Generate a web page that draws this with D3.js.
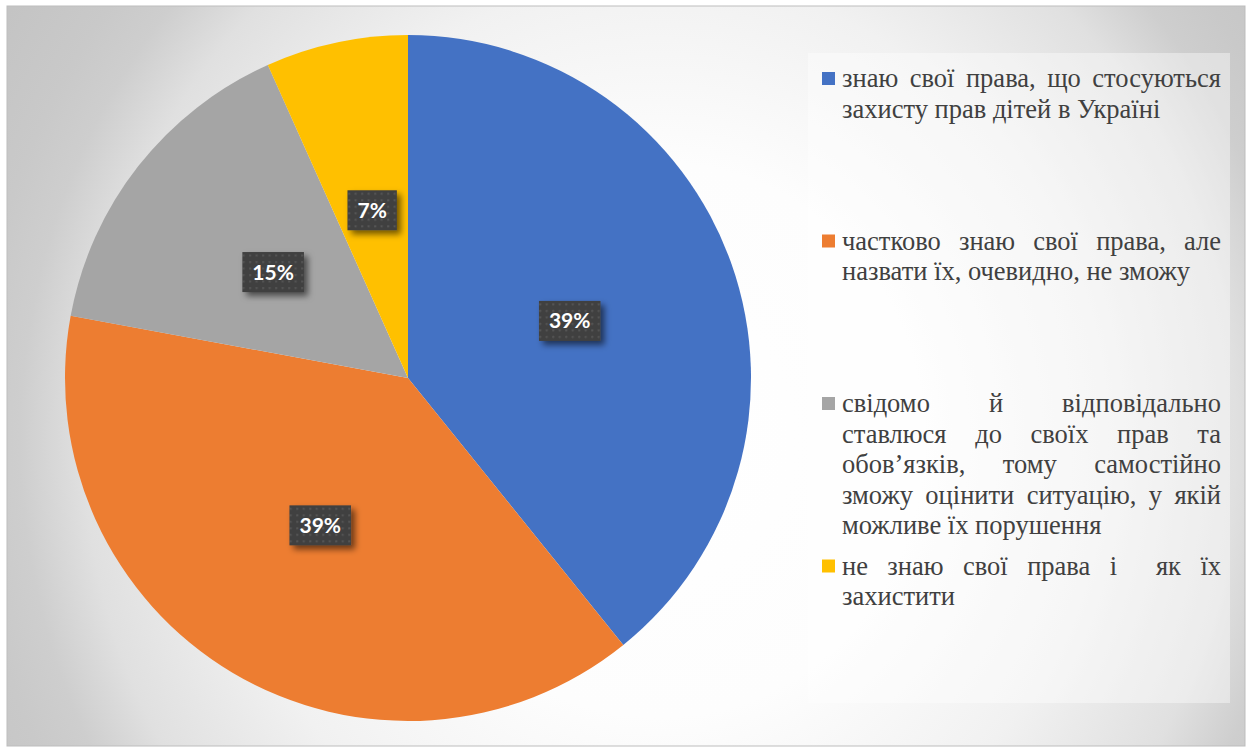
<!DOCTYPE html>
<html>
<head>
<meta charset="utf-8">
<script src="https://cdn.jsdelivr.net/npm/d3@7"></script>
<style>
  body { margin: 0; background: #fff; }
  svg { display: block; }
  .legend text { font-family: "Liberation Serif", "Times New Roman", serif; font-size: 26.5px; }
</style>
</head>
<body>
<div id="chart"></div>
<script>
// chart data
let categories = [
    "знаю свої права, що стосуються захисту прав дітей в Україні",
    "частково знаю свої права, але назвати їх, очевидно, не зможу",
    "свідомо й відповідально ставлюся до своїх прав та обов’язків, тому самостійно зможу оцінити ситуацію, у якій можливе їх порушення",
    "не знаю свої права і  як їх захистити"
];
let values = [39.2, 38.7, 15.4, 6.7];
let colors = ["#4472C4", "#ED7D31", "#A5A5A5", "#FFC000"];

let width = 1248, height = 748;

let svg = d3.select("#chart")
    .append("svg")
    .attr("width", width)
    .attr("height", height);

let defs = svg.append("defs");

// background gradient
let bg = defs.append("radialGradient")
    .attr("id", "bg-grad")
    .attr("gradientUnits", "userSpaceOnUse")
    .attr("cx", 0).attr("cy", 0).attr("r", 1)
    .attr("gradientTransform", "translate(660,440) scale(800,840)");
[[0, "#ffffff"], [0.33, "#fdfdfd"], [0.55, "#f1f1f1"], [0.72, "#e0e0e0"],
 [0.8, "#cecece"], [0.86, "#c9c9c9"], [1, "#c2c2c2"]].forEach(s => {
    bg.append("stop").attr("offset", s[0]).attr("stop-color", s[1]);
});

// dotted texture for the data labels
let pat = defs.append("pattern")
    .attr("id", "dots")
    .attr("width", 6.5).attr("height", 6.5)
    .attr("patternUnits", "userSpaceOnUse");
pat.append("rect").attr("width", 6.5).attr("height", 6.5).attr("fill", "#404040");
pat.append("rect").attr("x", 2).attr("y", 2).attr("width", 2).attr("height", 2).attr("fill", "#555555");

let shadow = defs.append("filter")
    .attr("id", "shadow")
    .attr("x", "-30%").attr("y", "-30%").attr("width", "170%").attr("height", "170%");
shadow.append("feDropShadow")
    .attr("dx", 4).attr("dy", 4).attr("stdDeviation", 3)
    .attr("flood-color", "#000").attr("flood-opacity", 0.55);

// chart area
svg.append("rect")
    .attr("x", 7).attr("y", 6)
    .attr("width", 1238).attr("height", 740)
    .attr("fill", "url(#bg-grad)")
    .attr("stroke", "#bdbdbd")
    .attr("stroke-width", 1);

// pie
let cx = 408, cy = 378, radius = 343;

let pie = d3.pie().sort(null).value(d => d);
let arc = d3.arc().innerRadius(0).outerRadius(radius);
let labelArc = d3.arc().innerRadius(radius * 0.5).outerRadius(radius * 0.5);

let total = d3.sum(values);
let arcs = pie(values);

let pieG = svg.append("g")
    .attr("transform", `translate(${cx},${cy})`);

pieG.selectAll(".slice")
    .data(arcs)
    .enter()
    .append("path")
    .attr("class", "slice")
    .attr("d", arc)
    .attr("fill", (d, i) => colors[i]);

let labels = pieG.selectAll(".data-label")
    .data(arcs)
    .enter()
    .append("g")
    .attr("class", "data-label")
    .attr("transform", d => `translate(${labelArc.centroid(d)})`);

labels.append("text")
    .attr("text-anchor", "middle")
    .attr("dy", "0.36em")
    .style("font-family", "Lato, 'Open Sans', sans-serif")
    .style("font-weight", "bold")
    .style("font-size", "21px")
    .attr("fill", "#ffffff")
    .text(d => Math.round(d.value / total * 100) + "%");

labels.each(function() {
    let g = d3.select(this);
    let w = g.select("text").node().getComputedTextLength() + 20;
    let h = 40;
    g.insert("rect", "text")
        .attr("x", -w / 2).attr("y", -h / 2)
        .attr("width", w).attr("height", h)
        .attr("fill", "url(#dots)")
        .attr("filter", "url(#shadow)");
});

// legend
let legendBox = {x: 808, y: 53, w: 422, h: 650};

svg.append("rect")
    .attr("x", legendBox.x).attr("y", legendBox.y)
    .attr("width", legendBox.w).attr("height", legendBox.h)
    .attr("fill", "#ffffff")
    .attr("fill-opacity", 0.4);

let slotScale = d3.scaleBand()
    .domain(d3.range(categories.length))
    .range([legendBox.y, legendBox.y + legendBox.h]);

let textX = 842, textRight = 1221, lineHeight = 30.5;
let maxW = textRight - textX;

let legend = svg.append("g").attr("class", "legend");

let measure = legend.append("text");

function textWidth(s) {
    measure.text(s);
    return measure.node().getComputedTextLength();
}

let spaceW = textWidth("a a") - textWidth("aa");

categories.forEach((cat, i) => {
    let top = slotScale(i) + 26;
    let words = cat.split(" ");
    // wrap into lines
    let lines = [], cur = [];
    words.forEach(w => {
        let test = cur.concat([w]).join(" ");
        if (cur.length && textWidth(test) > maxW) {
            lines.push(cur);
            cur = [w];
        } else {
            cur.push(w);
        }
    });
    if (cur.length) lines.push(cur);

    legend.append("rect")
        .attr("x", 822).attr("y", top - 7)
        .attr("width", 13).attr("height", 13)
        .attr("fill", colors[i]);

    lines.forEach((ln, li) => {
        let y = top + li * lineHeight;
        let widths = ln.map(w => w === "" ? 0 : textWidth(w));
        let gap = spaceW;
        let last = li === lines.length - 1;
        if (!last && ln.length > 1) {
            gap = (maxW - d3.sum(widths)) / (ln.length - 1);
        }
        let x = textX;
        ln.forEach((w, wi) => {
            if (w !== "") {
                legend.append("text")
                    .attr("x", x)
                    .attr("y", y)
                    .attr("dy", "0.32em")
                    .attr("fill", "#404040")
                    .text(w);
            }
            x += widths[wi] + gap;
        });
    });
});

measure.remove();
</script>
</body>
</html>
